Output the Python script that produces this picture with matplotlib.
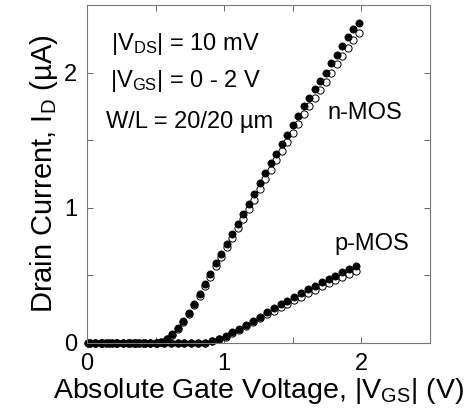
import matplotlib
matplotlib.use('Agg')
import matplotlib.pyplot as plt
from matplotlib.ticker import MultipleLocator

plt.rcParams['font.family'] = ['Liberation Sans', 'DejaVu Sans']
plt.rcParams['mathtext.default'] = 'regular'

# n-MOS sweep, 0.04 V steps
vgs_n = [0.02, 0.06, 0.10, 0.14, 0.18, 0.22, 0.26, 0.30, 0.34, 0.38,
         0.42, 0.46, 0.50, 0.54, 0.58, 0.62, 0.66, 0.70, 0.74, 0.78,
         0.82, 0.86, 0.90, 0.94, 0.98, 1.02, 1.06, 1.10, 1.14, 1.18,
         1.22, 1.26, 1.30, 1.34, 1.38, 1.42, 1.46, 1.50, 1.54, 1.58,
         1.62, 1.66, 1.70, 1.74, 1.78, 1.82, 1.86, 1.90, 1.94, 1.98]
id_n_filled = [0.0, 0.0, 0.0, 0.0, 0.0, 0.0, 0.0, 0.0, 0.0, 0.0,
               0.0, 0.001, 0.002, 0.008, 0.030, 0.064, 0.113, 0.163, 0.225, 0.289,
               0.361, 0.435, 0.509, 0.590, 0.659, 0.733, 0.807, 0.879, 0.953, 1.027,
               1.10, 1.18, 1.26, 1.33, 1.40, 1.47, 1.54, 1.61, 1.68, 1.75,
               1.81, 1.88, 1.94, 2.00, 2.07, 2.13, 2.20, 2.26, 2.32, 2.37]
id_n_open = [0.0, 0.0, 0.0, 0.0, 0.0, 0.0, 0.0, 0.0, 0.0, 0.0,
             0.0, 0.001, 0.002, 0.007, 0.028, 0.060, 0.107, 0.156, 0.216, 0.278,
             0.348, 0.420, 0.491, 0.569, 0.636, 0.707, 0.779, 0.848, 0.920, 0.991,
             1.06, 1.14, 1.21, 1.28, 1.35, 1.42, 1.49, 1.55, 1.62, 1.69,
             1.75, 1.81, 1.87, 1.93, 2.00, 2.06, 2.12, 2.18, 2.24, 2.29]

# p-MOS sweep, 0.05 V steps
vgs_p = [0.01, 0.06, 0.11, 0.16, 0.21, 0.26, 0.31, 0.36, 0.41, 0.46,
         0.51, 0.56, 0.61, 0.66, 0.71, 0.76, 0.81, 0.86, 0.91, 0.96,
         1.01, 1.06, 1.11, 1.16, 1.21, 1.26, 1.31, 1.36, 1.41, 1.46,
         1.51, 1.56, 1.61, 1.66, 1.71, 1.76, 1.81, 1.86, 1.91, 1.96]
id_p_filled = [0.0, 0.0, 0.0, 0.0, 0.0, 0.0, 0.0, 0.0, 0.0, 0.0,
               0.0, 0.0, 0.0, 0.0, 0.0, 0.0, 0.001, 0.003, 0.013, 0.030,
               0.052, 0.079, 0.104, 0.133, 0.165, 0.195, 0.227, 0.257, 0.287, 0.313,
               0.341, 0.368, 0.398, 0.422, 0.449, 0.474, 0.499, 0.524, 0.548, 0.573]
id_p_open = [0.0, 0.0, 0.0, 0.0, 0.0, 0.0, 0.0, 0.0, 0.0, 0.0,
             0.0, 0.0, 0.0, 0.0, 0.0, 0.0, 0.001, 0.003, 0.012, 0.028,
             0.048, 0.073, 0.097, 0.124, 0.154, 0.182, 0.212, 0.240, 0.268, 0.292,
             0.318, 0.343, 0.371, 0.394, 0.419, 0.442, 0.465, 0.489, 0.511, 0.535]

fig = plt.figure(figsize=(4.65, 4.15), dpi=100)
ax = fig.add_axes([0.187, 0.1735, 0.738, 0.8145])

ms = 5.2
# open circles go underneath the filled ones
ax.plot(vgs_n, id_n_open, 'o', ms=ms, mfc='white', mec='black', mew=0.7, ls='none', clip_on=False)
ax.plot(vgs_p, id_p_open, 'o', ms=ms, mfc='white', mec='black', mew=0.7, ls='none', clip_on=False)
ax.plot(vgs_n, id_n_filled, 'o', ms=ms, mfc='black', mec='black', mew=0.5, ls='none', clip_on=False)
ax.plot(vgs_p, id_p_filled, 'o', ms=ms, mfc='black', mec='black', mew=0.5, ls='none', clip_on=False)

ax.set_xlim(0, 2.5)
ax.set_ylim(0, 2.5)
ax.xaxis.set_major_locator(MultipleLocator(1))
ax.xaxis.set_minor_locator(MultipleLocator(0.5))
ax.yaxis.set_major_locator(MultipleLocator(1))
ax.yaxis.set_minor_locator(MultipleLocator(0.5))
ax.tick_params(which='both', direction='in', top=True, right=True,
               length=4, width=0.7, color='#666666', labelsize=17)
ax.tick_params(axis='x', pad=7)
ax.tick_params(axis='y', pad=7)
for sp in ax.spines.values():
    sp.set_color('#777777')
    sp.set_linewidth(0.8)

ax.set_xlabel('Absolute Gate Voltage, |V$_{GS}$| (V)', fontsize=20.5, labelpad=1)
ax.set_ylabel('Drain Current, I$_{D}$ (µA)', fontsize=21, labelpad=3)

ax.text(0.72, 2.165, '|V$_{DS}$| = 10 mV', fontsize=17, ha='center', va='baseline')
ax.text(0.72, 1.894, '|V$_{GS}$| = 0 - 2 V', fontsize=17, ha='center', va='baseline')
ax.text(0.75, 1.59, 'W/L = 20/20 µm', fontsize=17, ha='center', va='baseline')
ax.text(1.753, 1.66, 'n-MOS', fontsize=17, ha='left', va='baseline')
ax.text(1.80, 0.689, 'p-MOS', fontsize=17, ha='left', va='baseline')

fig.savefig('out.png', dpi=100)
